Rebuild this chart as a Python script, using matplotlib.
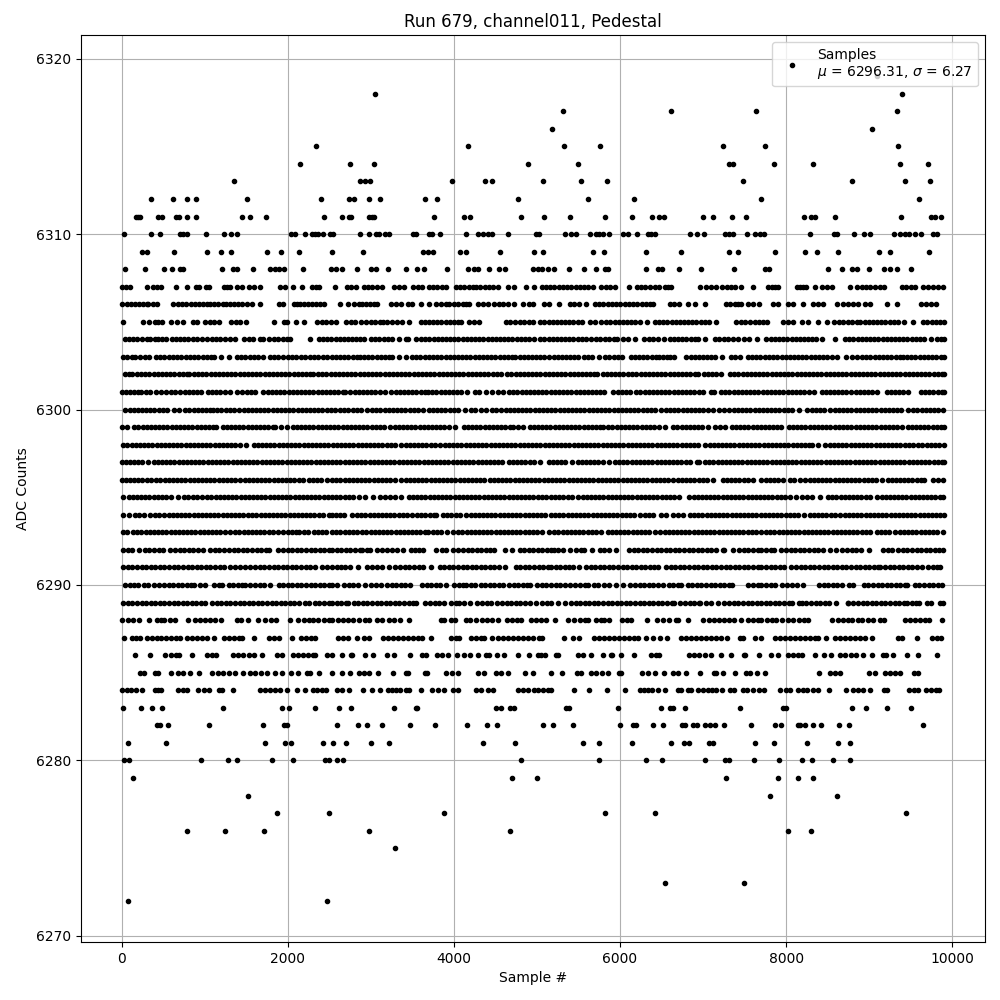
# Pedestal scatter for run 679, channel011. Sample numbers below are read off the
# picture one ADC level at a time, so they are estimates (dense rows especially).
import matplotlib
matplotlib.use("Agg")
import matplotlib.pyplot as plt

TITLE = "Run 679, channel011, Pedestal"
LABEL = "Samples\n$\\mu$ = 6296.31, $\\sigma$ = 6.27"

adc_6319 = [9096]
adc_6318 = [3052, 9398]
adc_6317 = [5313, 6614, 7639, 9337]
adc_6316 = [5181, 9036]
adc_6315 = [2338, 4173, 5325, 5759, 7241, 7747, 9349]
adc_6314 = [2145, 2748, 3038, 4897, 5494, 7313, 7361, 7855, 8325, 9373, 9711]
adc_6313 = [1348, 2869, 2930, 2990, 3980, 4378, 4463, 5072, 5530, 5843, 7482, 8795, 9434, 9735]
adc_6312 = [358, 624, 785, 893, 1505, 2398, 2732, 2797, 2982, 3110, 3654, 3799, 4777, 5614, 6169, 7699, 9602]
adc_6311 = [173, 197, 221, 443, 491, 656, 696, 785, 901, 1445, 1541, 1734, 2435, 2652, 2732, 2764, 2978, 3018,
            3038, 3763, 4117, 4197, 4813, 5084, 5398, 5819, 6145, 6386, 6470, 6526, 7000, 7120, 7349, 7518, 8217,
            8305, 8349, 8590, 9386, 9739, 9791, 9863]
adc_6310 = [32, 358, 463, 704, 744, 793, 1010, 1235, 1320, 1384, 2044, 2092, 2205, 2294, 2334, 2362, 2422, 2507,
            2547, 2869, 2982, 3058, 3098, 3171, 3219, 3509, 3549, 3702, 3742, 3827, 4149, 4294, 4350, 4406, 4455,
            4656, 4990, 5030, 5337, 5414, 5466, 5635, 5707, 5747, 5795, 5868, 6036, 6096, 6205, 6337, 6378, 6418,
            6843, 6928, 7012, 7261, 7309, 7361, 7530, 7622, 7683, 7731, 8289, 8574, 8614, 8819, 8940, 9012, 9301,
            9369, 9430, 9482, 9546, 9618, 9771, 9819]
adc_6309 = [241, 302, 636, 1022, 1191, 1312, 1746, 1915, 2133, 2531, 2905, 3630, 3690, 3751, 4076, 4140, 4559,
            4970, 5072, 5675, 5807, 6313, 6735, 7313, 7422, 7867, 8229, 8374, 8626, 9120, 9253, 9723]
adc_6308 = [44, 286, 515, 612, 704, 744, 1203, 1340, 1388, 1577, 1783, 1851, 1891, 1952, 2181, 2515, 2575, 2656,
            2833, 3006, 3058, 3203, 3424, 3553, 3642, 3919, 4173, 4237, 4286, 4426, 4547, 4620, 4954, 5010, 5064,
            5132, 5201, 5386, 5566, 5711, 5815, 5855, 6317, 6458, 6506, 6707, 6976, 7373, 7743, 7791, 8506, 8675,
            8795, 8855, 9000, 9181, 9249, 9329, 9506]
adc_6307 = [0, 50, 100, 302, 382, 425, 470, 656, 793, 895, 935, 1016, 1052, 1227, 1265, 1300, 1388, 1449, 1529,
            1590, 1662, 1911, 1964, 2060, 2173, 2294, 2335, 2374, 2563, 2716, 2765, 2817, 2917, 2965, 3020, 3078,
            3139, 3280, 3340, 3400, 3513, 3565, 3622, 3702, 3750, 3800, 3855, 3903, 4024, 4075, 4125, 4180, 4225,
            4265, 4320, 4370, 4420, 4466, 4527, 4648, 4728, 4869, 4970, 5060, 5110, 5160, 5210, 5265, 5315, 5365,
            5415, 5465, 5515, 5565, 5615, 5680, 5775, 5830, 5885, 5936, 6108, 6205, 6255, 6305, 6357, 6418, 6470,
            6538, 6580, 6618, 6960, 7040, 7100, 7153, 7233, 7285, 7335, 7381, 7458, 7602, 7783, 7825, 7863, 7904,
            8125, 8165, 8205, 8245, 8345, 8426, 8490, 8558, 8767, 8847, 8908, 8960, 9015, 9070, 9128, 9181, 9390,
            9445, 9500, 9550, 9650, 9711, 9771, 9831, 9892]
adc_6306 = [0, 60, 110, 160, 210, 260, 302, 322, 375, 430, 624, 675, 725, 780, 830, 880, 930, 980, 1026, 1066,
            1115, 1165, 1215, 1260, 1300, 1348, 1400, 1450, 1510, 1569, 1670, 1891, 1944, 2072, 2110, 2153, 2193,
            2245, 2295, 2345, 2390, 2434, 2628, 2724, 2797, 2857, 2897, 2945, 2990, 3040, 3078, 3247, 3300, 3360,
            3449, 3501, 3601, 3702, 3783, 3845, 3903, 3944, 4000, 4052, 4104, 4145, 4185, 4286, 4350, 4414, 4487,
            4540, 4587, 4656, 4728, 4829, 4909, 4950, 5090, 5140, 5270, 5394, 5450, 5506, 5594, 5695, 5750, 5800,
            5850, 5900, 5950, 6000, 6055, 6110, 6160, 6210, 6260, 6310, 6360, 6398, 6598, 6650, 6711, 6819, 6900,
            7028, 7281, 7330, 7380, 7425, 7462, 7542, 7602, 7675, 7843, 7904, 8024, 8084, 8197, 8325, 8385, 8446,
            8614, 8680, 8747, 8807, 8860, 8948, 9008, 9209, 9337, 9618, 9680, 9739, 9799]
adc_6305 = [20, 253, 334, 402, 440, 483, 596, 672, 744, 857, 905, 1006, 1060, 1115, 1167, 1320, 1375, 1429, 1501,
            1831, 1952, 1992, 2100, 2193, 2354, 2410, 2465, 2520, 2575, 2696, 2756, 2815, 2877, 2942, 3006, 3055,
            3105, 3150, 3199, 3259, 3320, 3380, 3461, 3601, 3650, 3700, 3750, 3800, 3850, 3900, 3950, 4000, 4044,
            4084, 4185, 4245, 4306, 4628, 4680, 4735, 4790, 4845, 4900, 4950, 5040, 5090, 5140, 5190, 5240, 5290,
            5340, 5390, 5440, 5495, 5546, 5635, 5695, 5775, 5835, 5885, 5935, 5985, 6035, 6085, 6135, 6185, 6237,
            6325, 6418, 6470, 6520, 6570, 6620, 6670, 6720, 6770, 6820, 6870, 6920, 6970, 7020, 7070, 7153, 7401,
            7455, 7510, 7565, 7620, 7675, 7723, 7771, 7964, 8025, 8084, 8185, 8265, 8386, 8486, 8578, 8634, 8690,
            8745, 8787, 8847, 8895, 8945, 8995, 9045, 9095, 9145, 9195, 9245, 9295, 9345, 9418, 9530, 9650, 9700,
            9750, 9800, 9850, 9895]
adc_6304 = [40, 90, 140, 190, 240, 302, 342, 402, 443, 490, 531, 604, 655, 705, 755, 805, 855, 905, 965, 1026,
            1086, 1140, 1187, 1247, 1300, 1360, 1469, 1529, 1585, 1670, 1698, 1770, 1831, 1885, 1940, 1990, 2032,
            2265, 2374, 2425, 2475, 2525, 2575, 2625, 2675, 2725, 2775, 2825, 2875, 2917, 2998, 3050, 3100, 3155,
            3210, 3259, 3340, 3420, 3449, 3541, 3601, 3655, 3705, 3755, 3805, 3855, 3905, 3955, 4005, 4055, 4105,
            4155, 4205, 4255, 4305, 4355, 4405, 4455, 4505, 4555, 4605, 4655, 4705, 4755, 4805, 4855, 4909, 4970,
            5040, 5090, 5140, 5190, 5240, 5290, 5340, 5390, 5440, 5490, 5540, 5590, 5650, 5707, 5760, 5815, 5870,
            5925, 5964, 6036, 6096, 6177, 6285, 6345, 6400, 6458, 6526, 6598, 6650, 6700, 6750, 6800, 6850, 6900,
            6940, 7028, 7141, 7195, 7250, 7305, 7360, 7415, 7490, 7554, 7655, 7763, 7815, 7865, 7915, 7965, 8015,
            8065, 8115, 8165, 8215, 8265, 8315, 8365, 8426, 8594, 8707, 8760, 8810, 8860, 8910, 8960, 9010, 9060,
            9110, 9160, 9210, 9260, 9310, 9360, 9410, 9460, 9510, 9560, 9610, 9660, 9739, 9811, 9870, 9899]
adc_6303 = [20, 70, 125, 160, 225, 280, 335, 414, 465, 515, 565, 615, 665, 710, 775, 825, 875, 925, 975, 1025,
            1075, 1110, 1200, 1289, 1390, 1440, 1490, 1540, 1590, 1640, 1700, 1785, 1835, 1885, 1940, 2005, 2055,
            2105, 2155, 2205, 2270, 2320, 2370, 2420, 2470, 2530, 2580, 2630, 2680, 2730, 2780, 2830, 2866, 2920,
            2970, 3020, 3070, 3120, 3170, 3220, 3260, 3337, 3426, 3490, 3540, 3596, 3650, 3700, 3750, 3800, 3850,
            3900, 3950, 4000, 4050, 4100, 4150, 4200, 4250, 4300, 4350, 4400, 4450, 4500, 4550, 4600, 4650, 4700,
            4735, 4790, 4840, 4890, 4940, 4990, 5040, 5090, 5145, 5200, 5250, 5300, 5350, 5400, 5450, 5490, 5570,
            5620, 5660, 5743, 5815, 5870, 5925, 5975, 6022, 6130, 6180, 6230, 6280, 6330, 6380, 6430, 6465, 6515,
            6570, 6596, 6655, 6795, 6850, 6900, 6950, 7000, 7050, 7100, 7140, 7225, 7335, 7390, 7440, 7536, 7590,
            7640, 7690, 7745, 7795, 7845, 7895, 7945, 7995, 8045, 8095, 8145, 8195, 8245, 8295, 8345, 8395, 8445,
            8495, 8555, 8618, 8725, 8790, 8850, 8918, 8965, 9005, 9066, 9120, 9170, 9212, 9267, 9320, 9365, 9403,
            9450, 9505, 9556, 9610, 9660, 9710, 9760, 9810, 9860, 9899]
adc_6302 = [44, 90, 125, 185, 235, 285, 335, 385, 435, 485, 535, 585, 635, 685, 735, 785, 815, 871, 921, 971,
            1021, 1071, 1121, 1171, 1221, 1271, 1321, 1371, 1421, 1471, 1521, 1571, 1621, 1671, 1721, 1771, 1821,
            1871, 1921, 1971, 2021, 2071, 2121, 2171, 2221, 2271, 2301, 2365, 2415, 2465, 2515, 2565, 2615, 2665,
            2715, 2765, 2815, 2865, 2915, 2965, 3015, 3065, 3115, 3165, 3215, 3265, 3315, 3365, 3415, 3465, 3515,
            3565, 3615, 3665, 3715, 3765, 3815, 3865, 3915, 3965, 4015, 4065, 4115, 4165, 4215, 4265, 4315, 4365,
            4415, 4465, 4515, 4566, 4642, 4692, 4742, 4792, 4842, 4892, 4936, 4992, 5042, 5092, 5142, 5192, 5242,
            5292, 5342, 5392, 5442, 5492, 5542, 5592, 5642, 5692, 5723, 5791, 5841, 5891, 5941, 5991, 6041, 6091,
            6140, 6197, 6247, 6297, 6347, 6397, 6447, 6497, 6547, 6597, 6647, 6697, 6747, 6797, 6847, 6897, 6944,
            7008, 7058, 7108, 7158, 7217, 7325, 7375, 7425, 7475, 7525, 7575, 7625, 7675, 7725, 7775, 7825, 7875,
            7925, 7975, 8025, 8075, 8125, 8175, 8225, 8275, 8325, 8375, 8425, 8475, 8525, 8575, 8625, 8675, 8725,
            8775, 8825, 8875, 8925, 8975, 9025, 9075, 9125, 9175, 9225, 9275, 9325, 9375, 9425, 9475, 9525, 9575,
            9625, 9675, 9725, 9775, 9825, 9875, 9899]
adc_6301 = [0, 50, 100, 150, 200, 237, 293, 345, 414, 478, 530, 590, 647, 707, 760, 810, 860, 910, 960, 1036,
            1090, 1140, 1190, 1240, 1309, 1393, 1450, 1505, 1560, 1610, 1707, 1760, 1810, 1860, 1910, 1960, 2010,
            2060, 2110, 2160, 2210, 2260, 2310, 2360, 2410, 2460, 2510, 2560, 2610, 2660, 2695, 2755, 2805, 2855,
            2905, 2955, 3005, 3055, 3105, 3169, 3249, 3300, 3350, 3400, 3450, 3500, 3550, 3600, 3650, 3683, 3739,
            3790, 3840, 3890, 3940, 3990, 4040, 4090, 4160, 4249, 4300, 4382, 4462, 4530, 4590, 4663, 4715, 4765,
            4815, 4865, 4915, 4965, 5015, 5065, 5115, 5165, 5215, 5265, 5315, 5365, 5415, 5465, 5515, 5565, 5615,
            5665, 5715, 5765, 5803, 5916, 5970, 6020, 6070, 6120, 6189, 6245, 6295, 6345, 6395, 6445, 6495, 6545,
            6595, 6645, 6695, 6745, 6795, 6845, 6895, 6945, 6996, 7096, 7137, 7217, 7267, 7317, 7367, 7417, 7467,
            7517, 7567, 7617, 7667, 7717, 7767, 7817, 7867, 7917, 7967, 8017, 8067, 8117, 8167, 8217, 8273, 8338,
            8426, 8476, 8526, 8576, 8626, 8676, 8726, 8780, 8836, 8886, 8936, 8986, 9036, 9096, 9209, 9260, 9310,
            9360, 9410, 9462, 9622, 9672, 9722, 9771, 9831, 9880, 9899]
adc_6300 = [44, 95, 145, 195, 245, 295, 345, 395, 445, 495, 545, 627, 687, 767, 817, 867, 917, 967, 1017, 1067,
            1096, 1152, 1202, 1252, 1302, 1349, 1418, 1468, 1518, 1568, 1618, 1668, 1718, 1768, 1818, 1868, 1918,
            1968, 2018, 2068, 2118, 2168, 2218, 2268, 2318, 2368, 2418, 2468, 2518, 2566, 2630, 2680, 2730, 2780,
            2830, 2880, 2960, 3016, 3066, 3116, 3166, 3216, 3266, 3316, 3366, 3416, 3466, 3516, 3566, 3627, 3699,
            3749, 3799, 3849, 3899, 3949, 3999, 4049, 4129, 4201, 4260, 4321, 4390, 4462, 4510, 4562, 4622, 4672,
            4722, 4772, 4822, 4872, 4922, 4972, 5022, 5072, 5122, 5172, 5222, 5272, 5322, 5372, 5422, 5472, 5522,
            5572, 5622, 5672, 5722, 5772, 5822, 5872, 5922, 5972, 6022, 6072, 6122, 6172, 6222, 6272, 6322, 6372,
            6422, 6494, 6554, 6604, 6654, 6704, 6754, 6804, 6854, 6904, 6954, 7004, 7054, 7125, 7197, 7257, 7317,
            7367, 7417, 7467, 7518, 7570, 7620, 7670, 7720, 7770, 7820, 7870, 7920, 7970, 8020, 8070, 8153, 8257,
            8307, 8357, 8407, 8457, 8526, 8586, 8636, 8686, 8736, 8786, 8836, 8886, 8936, 8986, 9036, 9086, 9136,
            9186, 9236, 9286, 9336, 9386, 9470, 9530, 9580, 9630, 9680, 9730, 9780, 9830, 9892]
adc_6299 = [0, 64, 152, 202, 252, 302, 352, 402, 452, 502, 552, 602, 652, 702, 752, 802, 852, 902, 952, 1002,
            1052, 1102, 1140, 1217, 1267, 1317, 1367, 1417, 1467, 1517, 1567, 1617, 1667, 1717, 1767, 1817, 1851,
            1923, 1992, 2060, 2110, 2160, 2210, 2260, 2310, 2360, 2410, 2460, 2510, 2560, 2610, 2660, 2710, 2760,
            2810, 2860, 2910, 2960, 3010, 3060, 3110, 3157, 3237, 3287, 3337, 3387, 3437, 3487, 3537, 3587, 3637,
            3687, 3737, 3787, 3837, 3887, 3937, 4012, 4120, 4170, 4220, 4270, 4320, 4370, 4420, 4470, 4520, 4570,
            4620, 4670, 4711, 4771, 4835, 4912, 4962, 5012, 5062, 5112, 5162, 5212, 5262, 5312, 5362, 5412, 5462,
            5512, 5562, 5612, 5662, 5712, 5762, 5799, 5859, 5909, 5959, 6009, 6059, 6109, 6159, 6209, 6259, 6309,
            6359, 6409, 6474, 6542, 6642, 6692, 6742, 6792, 6842, 6892, 6942, 6992, 7064, 7148, 7200, 7269, 7345,
            7395, 7445, 7495, 7545, 7595, 7645, 7695, 7745, 7795, 7845, 7884, 7944, 8032, 8082, 8132, 8182, 8232,
            8282, 8332, 8382, 8432, 8482, 8526, 8586, 8636, 8686, 8736, 8786, 8836, 8886, 8936, 8986, 9036, 9086,
            9136, 9186, 9236, 9286, 9336, 9390, 9462, 9512, 9562, 9612, 9662, 9712, 9762, 9812, 9862, 9899]
adc_6298 = [20, 70, 120, 170, 220, 270, 320, 370, 420, 470, 520, 570, 620, 670, 720, 770, 820, 870, 920, 970,
            1020, 1070, 1120, 1170, 1220, 1270, 1320, 1370, 1420, 1498, 1590, 1640, 1690, 1740, 1790, 1840, 1890,
            1940, 1990, 2040, 2090, 2140, 2190, 2240, 2290, 2340, 2390, 2440, 2490, 2540, 2590, 2640, 2690, 2740,
            2790, 2840, 2890, 2940, 2990, 3040, 3090, 3140, 3190, 3240, 3297, 3369, 3419, 3469, 3519, 3569, 3619,
            3669, 3719, 3769, 3827, 3891, 3941, 3991, 4041, 4091, 4141, 4191, 4241, 4291, 4341, 4391, 4441, 4491,
            4541, 4591, 4641, 4691, 4741, 4791, 4841, 4891, 4941, 4991, 5041, 5091, 5141, 5191, 5241, 5291, 5341,
            5391, 5441, 5491, 5541, 5591, 5641, 5691, 5741, 5791, 5841, 5891, 5941, 5991, 6041, 6091, 6141, 6191,
            6241, 6291, 6341, 6391, 6441, 6491, 6541, 6591, 6641, 6691, 6741, 6791, 6841, 6891, 6944, 7028, 7078,
            7128, 7178, 7228, 7278, 7328, 7378, 7428, 7478, 7528, 7578, 7628, 7678, 7728, 7778, 7828, 7878, 7928,
            7978, 8028, 8078, 8128, 8178, 8228, 8278, 8317, 8385, 8466, 8526, 8576, 8626, 8676, 8726, 8776, 8826,
            8876, 8926, 8976, 9026, 9076, 9126, 9176, 9226, 9276, 9326, 9376, 9426, 9476, 9530, 9590, 9640, 9690,
            9740, 9790, 9840, 9899]
adc_6297 = [0, 50, 100, 150, 200, 250, 317, 385, 435, 485, 535, 585, 635, 685, 735, 785, 835, 885, 935, 985,
            1035, 1085, 1135, 1185, 1235, 1285, 1335, 1385, 1435, 1485, 1535, 1585, 1635, 1685, 1735, 1785, 1835,
            1885, 1935, 1985, 2035, 2085, 2135, 2185, 2235, 2285, 2335, 2385, 2435, 2485, 2535, 2585, 2635, 2685,
            2735, 2785, 2835, 2885, 2935, 2985, 3035, 3085, 3135, 3185, 3235, 3285, 3335, 3385, 3435, 3485, 3535,
            3585, 3635, 3685, 3735, 3785, 3835, 3885, 3935, 3985, 4035, 4085, 4135, 4185, 4235, 4285, 4335, 4385,
            4435, 4485, 4535, 4582, 4662, 4712, 4762, 4812, 4862, 4912, 4962, 5032, 5144, 5190, 5240, 5290, 5340,
            5417, 5490, 5540, 5590, 5640, 5690, 5740, 5790, 5872, 5940, 5990, 6040, 6090, 6140, 6190, 6240, 6290,
            6340, 6390, 6440, 6490, 6540, 6590, 6640, 6690, 6740, 6790, 6847, 6923, 6956, 7024, 7074, 7124, 7174,
            7224, 7274, 7324, 7374, 7424, 7474, 7524, 7574, 7624, 7674, 7724, 7774, 7824, 7874, 7924, 7974, 8024,
            8074, 8124, 8174, 8224, 8274, 8324, 8374, 8424, 8474, 8524, 8574, 8624, 8674, 8724, 8774, 8824, 8874,
            8924, 8974, 9024, 9074, 9124, 9174, 9224, 9274, 9324, 9374, 9424, 9474, 9524, 9574, 9624, 9674, 9724,
            9774, 9824, 9874, 9899]
adc_6296 = [0, 50, 100, 150, 200, 250, 300, 358, 418, 468, 518, 568, 618, 668, 718, 768, 818, 868, 918, 968,
            1018, 1068, 1118, 1168, 1218, 1268, 1318, 1370, 1430, 1480, 1530, 1580, 1630, 1680, 1730, 1780, 1830,
            1880, 1930, 1980, 2030, 2080, 2130, 2185, 2253, 2303, 2353, 2403, 2474, 2534, 2584, 2634, 2684, 2734,
            2784, 2834, 2884, 2934, 2984, 3034, 3084, 3134, 3184, 3237, 3289, 3369, 3419, 3469, 3519, 3569, 3619,
            3669, 3719, 3769, 3819, 3869, 3919, 3969, 4019, 4069, 4119, 4169, 4219, 4269, 4319, 4362, 4430, 4480,
            4530, 4580, 4630, 4680, 4730, 4780, 4830, 4880, 4930, 4980, 5030, 5080, 5130, 5180, 5230, 5280, 5330,
            5380, 5430, 5480, 5530, 5580, 5630, 5680, 5730, 5780, 5830, 5880, 5930, 5980, 6030, 6080, 6130, 6180,
            6230, 6280, 6330, 6380, 6430, 6480, 6530, 6580, 6635, 6695, 6745, 6795, 6845, 6895, 6945, 6995, 7045,
            7117, 7237, 7287, 7337, 7387, 7437, 7487, 7537, 7598, 7703, 7753, 7803, 7853, 7903, 7964, 8044, 8100,
            8165, 8233, 8283, 8333, 8383, 8433, 8483, 8533, 8583, 8633, 8683, 8733, 8783, 8833, 8883, 8933, 8983,
            9033, 9083, 9157, 9221, 9271, 9321, 9371, 9421, 9471, 9521, 9571, 9621, 9663, 9763, 9823, 9892]
adc_6295 = [12, 84, 134, 184, 234, 284, 334, 384, 434, 484, 534, 594, 675, 755, 805, 855, 905, 968, 1032, 1082,
            1132, 1182, 1232, 1282, 1332, 1382, 1432, 1482, 1532, 1582, 1632, 1682, 1732, 1782, 1832, 1882, 1932,
            1982, 2032, 2082, 2132, 2182, 2232, 2282, 2332, 2382, 2432, 2482, 2534, 2584, 2634, 2684, 2734, 2784,
            2855, 2928, 3024, 3116, 3170, 3230, 3290, 3358, 3458, 3508, 3558, 3608, 3658, 3708, 3758, 3808, 3858,
            3908, 3958, 4008, 4058, 4108, 4158, 4208, 4258, 4308, 4358, 4408, 4458, 4508, 4558, 4608, 4658, 4708,
            4758, 4808, 4858, 4908, 4958, 5008, 5058, 5108, 5169, 5219, 5269, 5319, 5369, 5419, 5490, 5550, 5600,
            5650, 5700, 5750, 5800, 5850, 5900, 5950, 6000, 6050, 6100, 6150, 6200, 6250, 6300, 6350, 6400, 6450,
            6500, 6550, 6600, 6650, 6715, 6835, 6885, 6935, 6985, 7035, 7085, 7135, 7185, 7235, 7285, 7335, 7385,
            7435, 7485, 7535, 7585, 7635, 7685, 7735, 7785, 7835, 7884, 7936, 7990, 8045, 8117, 8193, 8250, 8310,
            8406, 8506, 8556, 8606, 8656, 8706, 8756, 8806, 8856, 8906, 8956, 9006, 9088, 9148, 9198, 9248, 9298,
            9348, 9398, 9448, 9498, 9548, 9598, 9648, 9698, 9748, 9798, 9848, 9892]
adc_6294 = [20, 84, 165, 215, 265, 337, 397, 450, 506, 566, 616, 666, 716, 766, 816, 866, 916, 966, 1016, 1066,
            1116, 1166, 1216, 1266, 1316, 1366, 1416, 1466, 1516, 1570, 1622, 1672, 1722, 1772, 1822, 1872, 1922,
            1972, 2022, 2072, 2122, 2172, 2222, 2272, 2322, 2372, 2422, 2495, 2534, 2584, 2634, 2675, 2775, 2835,
            2885, 2935, 2985, 3035, 3085, 3135, 3185, 3235, 3285, 3335, 3385, 3435, 3490, 3558, 3608, 3658, 3708,
            3758, 3787, 3871, 3921, 3971, 4021, 4071, 4141, 4201, 4251, 4301, 4351, 4401, 4451, 4501, 4551, 4601,
            4651, 4701, 4751, 4801, 4851, 4901, 4951, 5001, 5051, 5101, 5169, 5219, 5269, 5319, 5369, 5419, 5469,
            5519, 5569, 5619, 5669, 5719, 5769, 5819, 5869, 5919, 5969, 6019, 6069, 6119, 6165, 6245, 6295, 6345,
            6394, 6494, 6554, 6634, 6700, 6755, 6843, 6893, 6943, 6993, 7043, 7093, 7143, 7193, 7243, 7293, 7343,
            7393, 7443, 7493, 7543, 7593, 7643, 7693, 7743, 7793, 7843, 7893, 7943, 7993, 8043, 8093, 8143, 8217,
            8285, 8335, 8385, 8435, 8485, 8535, 8594, 8647, 8707, 8757, 8807, 8857, 8907, 8957, 9007, 9057, 9107,
            9157, 9207, 9257, 9307, 9357, 9407, 9457, 9507, 9557, 9607, 9657, 9707, 9757, 9807, 9857, 9899]
adc_6293 = [20, 70, 133, 189, 239, 289, 339, 389, 439, 489, 539, 589, 639, 689, 739, 789, 839, 889, 939, 989,
            1039, 1089, 1139, 1189, 1239, 1309, 1369, 1419, 1469, 1519, 1569, 1619, 1669, 1719, 1769, 1819, 1879,
            1948, 1998, 2048, 2098, 2133, 2193, 2243, 2313, 2365, 2415, 2465, 2534, 2584, 2634, 2684, 2734, 2784,
            2834, 2888, 2948, 2998, 3048, 3098, 3148, 3198, 3248, 3298, 3348, 3398, 3448, 3498, 3548, 3598, 3648,
            3687, 3747, 3797, 3847, 3920, 3988, 4052, 4102, 4152, 4202, 4252, 4302, 4352, 4402, 4452, 4502, 4552,
            4602, 4652, 4702, 4752, 4802, 4852, 4902, 4952, 5002, 5064, 5144, 5209, 5259, 5309, 5359, 5409, 5459,
            5509, 5559, 5609, 5659, 5709, 5771, 5851, 5901, 5951, 6001, 6051, 6101, 6151, 6201, 6251, 6301, 6353,
            6418, 6486, 6536, 6586, 6636, 6686, 6736, 6786, 6836, 6886, 6936, 6986, 7036, 7086, 7136, 7186, 7236,
            7286, 7336, 7386, 7436, 7486, 7536, 7586, 7636, 7703, 7759, 7809, 7859, 7909, 7959, 8009, 8059, 8109,
            8159, 8209, 8259, 8309, 8359, 8409, 8459, 8509, 8559, 8609, 8659, 8709, 8759, 8809, 8859, 8909, 8959,
            9008, 9088, 9138, 9188, 9238, 9309, 9369, 9419, 9469, 9519, 9569, 9619, 9669, 9719, 9769, 9819, 9892]
adc_6292 = [20, 75, 130, 213, 285, 335, 395, 450, 500, 586, 646, 700, 755, 810, 865, 920, 976, 1060, 1120, 1175,
            1237, 1297, 1350, 1405, 1460, 1515, 1570, 1625, 1680, 1735, 1779, 1883, 1940, 2000, 2055, 2110, 2165,
            2220, 2275, 2330, 2385, 2440, 2495, 2534, 2590, 2645, 2700, 2755, 2810, 2865, 2896, 2956, 2996, 3076,
            3135, 3195, 3255, 3310, 3386, 3478, 3530, 3585, 3627, 3783, 3851, 3910, 3988, 4052, 4110, 4165, 4220,
            4275, 4330, 4385, 4440, 4482, 4610, 4703, 4791, 4845, 4900, 4955, 5010, 5065, 5120, 5169, 5201, 5257,
            5315, 5402, 5470, 5530, 5570, 5659, 5763, 5811, 5871, 5952, 6112, 6165, 6220, 6275, 6330, 6385, 6440,
            6495, 6550, 6605, 6660, 6715, 6770, 6825, 6880, 6935, 6990, 7045, 7096, 7157, 7237, 7257, 7357, 7438,
            7490, 7545, 7600, 7660, 7703, 7760, 7815, 7856, 7944, 8000, 8055, 8110, 8165, 8220, 8275, 8330, 8385,
            8446, 8526, 8600, 8675, 8735, 8790, 8845, 8896, 9000, 9169, 9225, 9269, 9349, 9405, 9460, 9515, 9570,
            9625, 9680, 9735, 9790, 9845, 9892]
adc_6291 = [20, 75, 130, 185, 240, 295, 350, 405, 460, 515, 570, 625, 680, 735, 795, 847, 908, 960, 1015, 1070,
            1125, 1180, 1235, 1301, 1369, 1430, 1490, 1542, 1610, 1665, 1720, 1775, 1830, 1885, 1940, 1995, 2050,
            2105, 2160, 2215, 2270, 2325, 2414, 2474, 2534, 2590, 2645, 2695, 2755, 2848, 2956, 3015, 3075, 3135,
            3217, 3297, 3355, 3410, 3465, 3520, 3575, 3630, 3719, 3827, 3885, 3940, 3995, 4050, 4105, 4160, 4215,
            4270, 4325, 4380, 4435, 4482, 4542, 4610, 4743, 4800, 4855, 4910, 4965, 5020, 5075, 5130, 5169, 5225,
            5280, 5335, 5390, 5430, 5510, 5590, 5645, 5700, 5755, 5810, 5865, 5920, 5975, 6030, 6085, 6140, 6195,
            6250, 6305, 6360, 6415, 6454, 6554, 6610, 6665, 6720, 6775, 6830, 6885, 6940, 6995, 7050, 7105, 7160,
            7215, 7270, 7325, 7380, 7435, 7490, 7545, 7600, 7660, 7703, 7760, 7815, 7870, 7925, 7980, 8056, 8116,
            8175, 8230, 8285, 8340, 8395, 8450, 8505, 8560, 8615, 8670, 8725, 8780, 8835, 8890, 8945, 9000, 9055,
            9110, 9129, 9189, 9245, 9300, 9355, 9410, 9465, 9520, 9575, 9631, 9711, 9765, 9815, 9851]
adc_6290 = [44, 100, 155, 197, 265, 320, 385, 454, 510, 565, 620, 675, 730, 785, 840, 868, 948, 1008, 1116, 1175,
            1209, 1289, 1345, 1400, 1455, 1490, 1550, 1605, 1660, 1715, 1783, 1891, 1945, 2000, 2055, 2110, 2165,
            2220, 2275, 2330, 2385, 2440, 2495, 2534, 2594, 2678, 2735, 2790, 2845, 2928, 3008, 3065, 3125, 3197,
            3250, 3305, 3360, 3415, 3470, 3618, 3675, 3730, 3785, 3831, 3908, 4000, 4060, 4115, 4149, 4201, 4249,
            4321, 4375, 4430, 4485, 4540, 4590, 4663, 4720, 4775, 4830, 4885, 4916, 5004, 5060, 5115, 5169, 5225,
            5280, 5335, 5402, 5462, 5520, 5575, 5611, 5683, 5731, 5811, 5872, 5952, 6032, 6124, 6180, 6235, 6290,
            6345, 6400, 6455, 6514, 6586, 6640, 6695, 6735, 6815, 6870, 6925, 6980, 7035, 7090, 7145, 7200, 7255,
            7310, 7346, 7546, 7600, 7660, 7703, 7760, 7815, 7870, 7952, 8016, 8070, 8125, 8205, 8393, 8450, 8505,
            8560, 8615, 8670, 8755, 8807, 8936, 8990, 9045, 9100, 9155, 9210, 9265, 9320, 9375, 9430, 9458, 9550,
            9605, 9660, 9715, 9770, 9825, 9872]
adc_6289 = [20, 75, 130, 185, 240, 295, 350, 405, 460, 515, 570, 625, 680, 735, 790, 845, 900, 955, 1000, 1088,
            1145, 1200, 1255, 1310, 1365, 1420, 1475, 1530, 1585, 1640, 1695, 1750, 1805, 1860, 1915, 1970, 2025,
            2080, 2141, 2205, 2253, 2325, 2380, 2434, 2494, 2534, 2590, 2645, 2700, 2723, 2795, 2850, 2905, 2960,
            3015, 3070, 3125, 3180, 3235, 3290, 3345, 3400, 3455, 3510, 3546, 3658, 3715, 3770, 3825, 3880, 3960,
            4020, 4060, 4120, 4189, 4281, 4340, 4395, 4442, 4522, 4580, 4635, 4690, 4745, 4800, 4855, 4915, 4992,
            5064, 5120, 5169, 5249, 5338, 5410, 5465, 5520, 5575, 5630, 5685, 5740, 5795, 5850, 5905, 5960, 6015,
            6070, 6125, 6180, 6235, 6290, 6345, 6400, 6455, 6510, 6565, 6620, 6655, 6727, 6785, 6840, 6895, 6950,
            6968, 7036, 7090, 7177, 7257, 7315, 7370, 7425, 7480, 7535, 7590, 7645, 7700, 7755, 7810, 7865, 7920,
            7975, 8030, 8072, 8153, 8193, 8245, 8300, 8355, 8410, 8465, 8520, 8598, 8739, 8747, 8807, 8865, 8920,
            8975, 9030, 9085, 9140, 9195, 9250, 9305, 9360, 9415, 9450, 9510, 9565, 9598, 9691, 9743, 9851, 9892]
adc_6288 = [4, 76, 140, 205, 329, 426, 470, 514, 578, 647, 795, 887, 945, 1005, 1065, 1129, 1201, 1389, 1442, 1522,
            1638, 1731, 1795, 1864, 2032, 2120, 2193, 2250, 2310, 2370, 2434, 2494, 2534, 2600, 2660, 2725, 2783,
            2863, 2930, 2984, 3076, 3137, 3217, 3277, 3349, 3458, 3839, 3880, 3960, 4008, 4140, 4200, 4265, 4333,
            4402, 4460, 4534, 4642, 4700, 4760, 4803, 4924, 4985, 5045, 5104, 5213, 5377, 5442, 5518, 5575, 5619,
            5711, 5770, 5811, 5872, 6020, 6085, 6133, 6321, 6446, 6520, 6594, 6675, 6703, 6819, 7004, 7068, 7136,
            7195, 7250, 7309, 7369, 7458, 7538, 7600, 7660, 7703, 7770, 7831, 7883, 7950, 8024, 8084, 8150, 8210,
            8265, 8558, 8620, 8680, 8739, 8795, 8860, 8916, 8988, 9048, 9128, 9181, 9430, 9490, 9550, 9610, 9670,
            9719, 9871]
adc_6287 = [32, 120, 175, 221, 302, 360, 420, 480, 540, 600, 660, 704, 785, 845, 905, 965, 1025, 1107, 1227, 1290,
            1350, 1410, 1449, 1594, 1770, 1830, 1891, 2048, 2161, 2220, 2280, 2334, 2607, 2668, 2728, 2837, 2917,
            2978, 3151, 3210, 3270, 3330, 3390, 3450, 3510, 3570, 3622, 3722, 3964, 4024, 4064, 4205, 4265, 4325,
            4366, 4455, 4527, 4587, 4647, 4707, 4767, 4827, 4887, 4947, 5030, 5064, 5325, 5434, 5502, 5683, 5743,
            5803, 5863, 5923, 5983, 6043, 6103, 6163, 6217, 6317, 6398, 6478, 6566, 6739, 6800, 6860, 6920, 6980,
            7040, 7100, 7160, 7220, 7293, 7442, 7482, 7622, 7703, 7863, 7923, 7983, 8043, 8103, 8163, 8223, 8283,
            8343, 8386, 8474, 8586, 8646, 8706, 8766, 8826, 8888, 8948, 9036, 9349, 9390, 9570, 9751, 9811, 9863]
adc_6286 = [161, 346, 523, 590, 650, 696, 845, 1026, 1085, 1139, 1336, 1400, 1460, 1530, 1590, 1690, 1871, 1932,
            2060, 2120, 2180, 2240, 2300, 2334, 2475, 2535, 2656, 2756, 2777, 2930, 3026, 3199, 3280, 3473, 3621,
            3662, 3795, 3860, 3924, 4032, 4124, 4200, 4286, 4386, 4427, 4519, 4608, 4777, 4901, 5010, 5052, 5092,
            5233, 5253, 5494, 5560, 5655, 5795, 5887, 5904, 6016, 6165, 6378, 6430, 6466, 6827, 6890, 6950, 7020,
            7092, 7221, 7337, 7494, 7510, 7675, 7823, 7896, 8024, 8085, 8145, 8185, 8349, 8458, 8546, 8646, 8710,
            8775, 8840, 8928, 9028, 9168, 9197, 9289, 9458, 9590, 9811]
adc_6285 = [221, 274, 402, 443, 595, 680, 745, 825, 926, 1094, 1160, 1225, 1290, 1368, 1461, 1549, 1610, 1680, 1750,
            1851, 1932, 2044, 2125, 2233, 2262, 2374, 2535, 2656, 2744, 2857, 2920, 2980, 3090, 3272, 3420, 3453,
            3654, 3682, 3903, 3975, 4044, 4285, 4366, 4507, 4570, 4648, 4861, 4950, 5173, 5305, 5486, 5534, 5655,
            5715, 5785, 5855, 5984, 6016, 6269, 6340, 6426, 6530, 6638, 6700, 6799, 6960, 7132, 7161, 7241, 7390,
            7522, 7562, 7650, 7751, 8398, 8526, 8590, 8647, 9000, 9068, 9189, 9250, 9310, 9370, 9542, 9582]
adc_6284 = [0, 64, 108, 173, 241, 402, 443, 475, 684, 744, 793, 925, 986, 1046, 1167, 1207, 1336, 1670, 1730, 1791,
            1851, 1911, 1988, 2113, 2205, 2302, 2354, 2414, 2455, 2595, 2656, 2736, 2905, 3014, 3110, 3207, 3260,
            3300, 3352, 3420, 3461, 3605, 3742, 3811, 3883, 3992, 4044, 4265, 4326, 4406, 4467, 4769, 4829, 4889,
            4962, 5018, 5072, 5133, 5173, 5446, 5627, 5847, 6060, 6237, 6285, 6337, 6390, 6458, 6538, 6699, 6739,
            6819, 6859, 6940, 7000, 7060, 7112, 7161, 7229, 7321, 7369, 7482, 7530, 7602, 7675, 7735, 7928, 7996,
            8044, 8145, 8205, 8253, 8325, 8385, 8518, 8723, 8807, 8867, 8928, 9012, 9181, 9217, 9482, 9538, 9590,
            9679, 9739, 9799, 9843]
adc_6283 = [20, 237, 370, 491, 1215, 1936, 2012, 2326, 2616, 2760, 3280, 3541, 3561, 4511, 4567, 4680, 4728, 5345,
            5386, 5976, 6494, 6598, 6639, 6783, 7446, 7964, 7996, 8795, 8964, 9217, 9506]
adc_6282 = [431, 463, 555, 1046, 1698, 1952, 1992, 2591, 2845, 2954, 3135, 3473, 3775, 4161, 4402, 4523, 5072, 5193,
            5434, 6000, 6157, 6197, 6398, 6518, 6751, 6783, 6880, 6928, 7028, 7088, 7149, 7253, 7582, 7867, 7940,
            8137, 8169, 8229, 8325, 8414, 8638, 8759, 9651]
adc_6281 = [80, 539, 1722, 1964, 2036, 2422, 2543, 2700, 3002, 3219, 4354, 4740, 5554, 5747, 6145, 6614, 6771, 6831,
            7072, 7120, 7627, 7855, 8253, 8626, 8771]
adc_6280 = [28, 85, 950, 1276, 1384, 1807, 2060, 2443, 2499, 2591, 2664, 4813, 5747, 6313, 6506, 7024, 7265, 7317,
            7614, 7916, 8193, 8313, 8566, 8771]
adc_6279 = [141, 4704, 5006, 7277, 7904, 8145, 8325]
adc_6278 = [1517, 7807, 8614]
adc_6277 = [1867, 2495, 3883, 5819, 6422, 9446]
adc_6276 = [793, 1239, 1710, 2978, 4680, 8024, 8301]
adc_6275 = [3292]
adc_6273 = [6542, 7494]
adc_6272 = [80, 2471]

levels = [6319, 6318, 6317, 6316, 6315, 6314, 6313, 6312, 6311, 6310, 6309, 6308, 6307, 6306, 6305, 6304,
          6303, 6302, 6301, 6300, 6299, 6298, 6297, 6296, 6295, 6294, 6293, 6292, 6291, 6290, 6289, 6288,
          6287, 6286, 6285, 6284, 6283, 6282, 6281, 6280, 6279, 6278, 6277, 6276, 6275, 6273, 6272]
rows = [adc_6319, adc_6318, adc_6317, adc_6316, adc_6315, adc_6314, adc_6313, adc_6312, adc_6311, adc_6310,
        adc_6309, adc_6308, adc_6307, adc_6306, adc_6305, adc_6304, adc_6303, adc_6302, adc_6301, adc_6300,
        adc_6299, adc_6298, adc_6297, adc_6296, adc_6295, adc_6294, adc_6293, adc_6292, adc_6291, adc_6290,
        adc_6289, adc_6288, adc_6287, adc_6286, adc_6285, adc_6284, adc_6283, adc_6282, adc_6281, adc_6280,
        adc_6279, adc_6278, adc_6277, adc_6276, adc_6275, adc_6273, adc_6272]

samples = []
counts = []
for level, row in zip(levels, rows):
    samples += row
    counts += [level] * len(row)

fig, ax = plt.subplots(figsize=(10, 10))
ax.plot(samples, counts, "k.", label=LABEL)
ax.set_title(TITLE)
ax.set_xlabel("Sample #")
ax.set_ylabel("ADC Counts")
ax.grid(True)
ax.legend(loc="upper right")
# axes box, tight_layout left the top edge 2px low
fig.subplots_adjust(left=0.0805, right=0.985, bottom=0.058, top=0.965)
fig.savefig("out.png", dpi=100)
